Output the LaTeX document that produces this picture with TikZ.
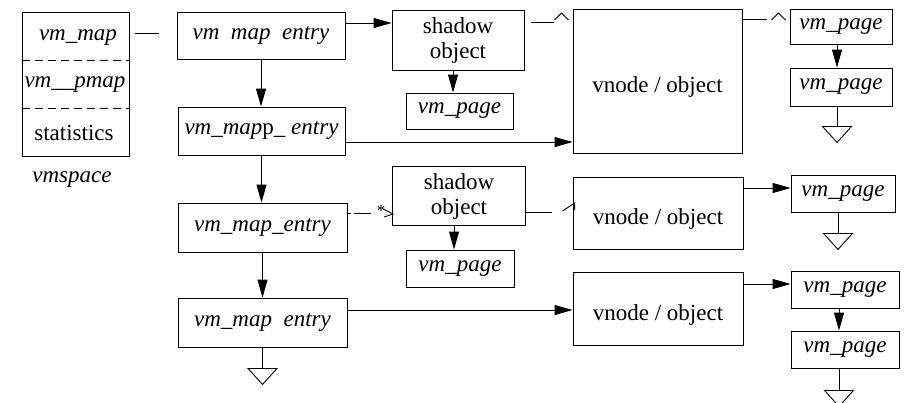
\documentclass[tikz,border=0pt]{standalone}
\usepackage{fontspec}
\setmainfont{Liberation Serif}
\usetikzlibrary{arrows.meta}
\begin{document}
\begin{tikzpicture}[x=1pt,y=-1pt,line width=0.9pt,
  box/.style={draw,inner sep=0pt,font=\fontsize{23}{25}\selectfont,align=center},
  txt/.style={inner sep=0pt,font=\fontsize{23}{25}\selectfont},
  lbl/.style={inner sep=0pt,font=\fontsize{23}{25}\selectfont,yshift=-6pt},
  arr/.style={-{Triangle[length=18pt,width=10pt]}},
  gnd/.pic={\draw (-14.5,0) -- (14.5,0) -- (0,16) -- cycle;},
  caret/.pic={\draw (-7,7) -- (0,0) -- (7,7);}]
\useasboundingbox (0,0) rectangle (904,402);
% vmspace
\node[box,minimum width=107pt,minimum height=144pt] (vms) at (75.5,84) {};
\node[txt] (vmmap) at (78,38) {\itshape vm\_map};
\node[txt] (pmap) at (75,85) {\itshape vm\_\_pmap};
\node[txt] (stat) at (74,133) {statistics};
\node[txt] (vmsl) at (72,180) {\itshape vmspace};
\coordinate (d1) at (0,60);
\coordinate (d2) at (0,108);
\draw[dash pattern=on 8pt off 5pt] (vms.west |- d1) -- (vms.east |- d1);
\draw[dash pattern=on 8pt off 5pt] (vms.west |- d2) -- (vms.east |- d2);
% map entries
\node[box,minimum width=168pt,minimum height=47pt] (e1) at (261,35.5) {\itshape vm~~map~~entry};
\node[box,minimum width=167pt,minimum height=48pt] (e2) at (261.5,131) {\itshape vm\_map\upshape p\_ \itshape entry};
\node[box,minimum width=169pt,minimum height=49pt] (e3) at (262.5,227.5) {\itshape vm\_map\_entry};
\node[box,minimum width=169pt,minimum height=49pt] (e4) at (262.5,322.5) {\itshape vm\_map~~entry};
% shadow objects
\node[box,minimum width=132pt,minimum height=60pt] (sh1) at (458,40) {shadow\\object};
\node[box,minimum width=107pt,minimum height=36pt] (pg1) at (459.5,111) {\itshape vm\_page};
\node[box,minimum width=133pt,minimum height=59pt] (sh2) at (459,196) {shadow\\object};
\node[box,minimum width=108pt,minimum height=37pt] (pg2) at (460,268.5) {\itshape vm\_page};
% vnodes
\node[box,minimum width=169pt,minimum height=144pt,label={[lbl]center:vnode / object}] (vn1) at (657.5,81) {};
\node[box,minimum width=170pt,minimum height=72pt,label={[lbl]center:vnode / object}] (vn2) at (658,213) {};
\node[box,minimum width=170pt,minimum height=73pt,label={[lbl]center:vnode / object}] (vn3) at (658,308.5) {};
% pages
\node[box,minimum width=102pt,minimum height=35pt] (p1) at (841,26.5) {\itshape vm\_page};
\node[box,minimum width=102pt,minimum height=38pt] (p2) at (841,87) {\itshape vm\_page};
\node[box,minimum width=104pt,minimum height=37pt] (p3) at (843,193.5) {\itshape vm\_page};
\node[box,minimum width=108pt,minimum height=37pt] (p4) at (845,289.5) {\itshape vm\_page};
\node[box,minimum width=108pt,minimum height=37pt] (p5) at (845,349.5) {\itshape vm\_page};
% connectors
\coordinate (c0) at (135,33);
\draw (c0) -- ++(24,0);
\draw[arr] ([yshift=12.5pt]e1.east) -- ([yshift=17pt]sh1.west);
\draw[arr] (e1.south) -- (e2.north -| e1.south);
\draw[arr] (e2.south) -- (e3.north -| e2.south);
\draw[arr] (e3.south) -- (e4.north -| e3.south);
\draw[arr] ([yshift=-11pt]e2.east) -- ([yshift=-61pt]vn1.west);
\draw[arr] ([yshift=12.5pt]e4.east) -- ([yshift=-1.5pt]vn3.west);
\draw (e4.south) -- ++(0,21) coordinate (g1);
\pic at (g1) {gnd};
% e3 -> sh2 (broken dashed)
\coordinate (t3) at ([yshift=14.5pt]e3.east);
\coordinate (q3) at (t3 -| sh2.west);
\draw (t3) -- ++(4,0);
\draw ([xshift=7pt]t3) -- ++(17,0);
\node[inner sep=0pt,font=\fontsize{17}{17}\selectfont] (star) at ([shift={(-11,-2)}]q3) {*};
\draw ([shift={(-9,-4)}]q3) -- ([shift={(1,1)}]q3) -- ([shift={(-8,4)}]q3);
\coordinate (a1) at ([xshift=-5pt]sh1.south);
\draw[arr] (a1) -- (a1 |- pg1.north);
\coordinate (a2) at ([xshift=-5pt]sh2.south);
\draw[arr] (a2) -- (a2 |- pg2.north);
% sh1 -> vn1 broken
\draw ([yshift=18pt,xshift=7pt]sh1.east) -- ++(23,0);
\pic at ([shift={(-11,-68)}]vn1.west) {caret};
% sh2 -> vn2 broken
\draw ([yshift=-16pt]sh2.east) -- ++(26,0);
\draw ([shift={(-10,-2)}]vn2.west) -- ([shift={(2,-10)}]vn2.west) -- ([shift={(2,-3)}]vn2.west);
% vn1 -> p1 broken
\draw ([yshift=62pt]vn1.east) -- ++(25,0);
\pic at ([shift={(-11,-13.5)}]p1.west) {caret};
% vn2 -> p3, vn3 -> p4
\draw[arr] ([yshift=25pt]vn2.east) -- ([yshift=5.5pt]p3.west);
\draw[arr] ([yshift=24.5pt]vn3.east) -- ([yshift=5.5pt]p4.west);
% page chains
\coordinate (a3) at ([xshift=-4pt]p1.south);
\draw[arr] (a3) -- (a3 |- p2.north);
\draw ([xshift=-4pt]p2.south) -- ++(0,20) coordinate (g2);
\pic at (g2) {gnd};
\draw ([xshift=-5pt]p3.south) -- ++(0,21) coordinate (g3);
\pic at (g3) {gnd};
\coordinate (a4) at ([xshift=-6pt]p4.south);
\draw[arr] (a4) -- (a4 |- p5.north);
\draw ([xshift=-6pt]p5.south) -- ++(0,22) coordinate (g4);
\pic at (g4) {gnd};
\end{tikzpicture}
\end{document}
